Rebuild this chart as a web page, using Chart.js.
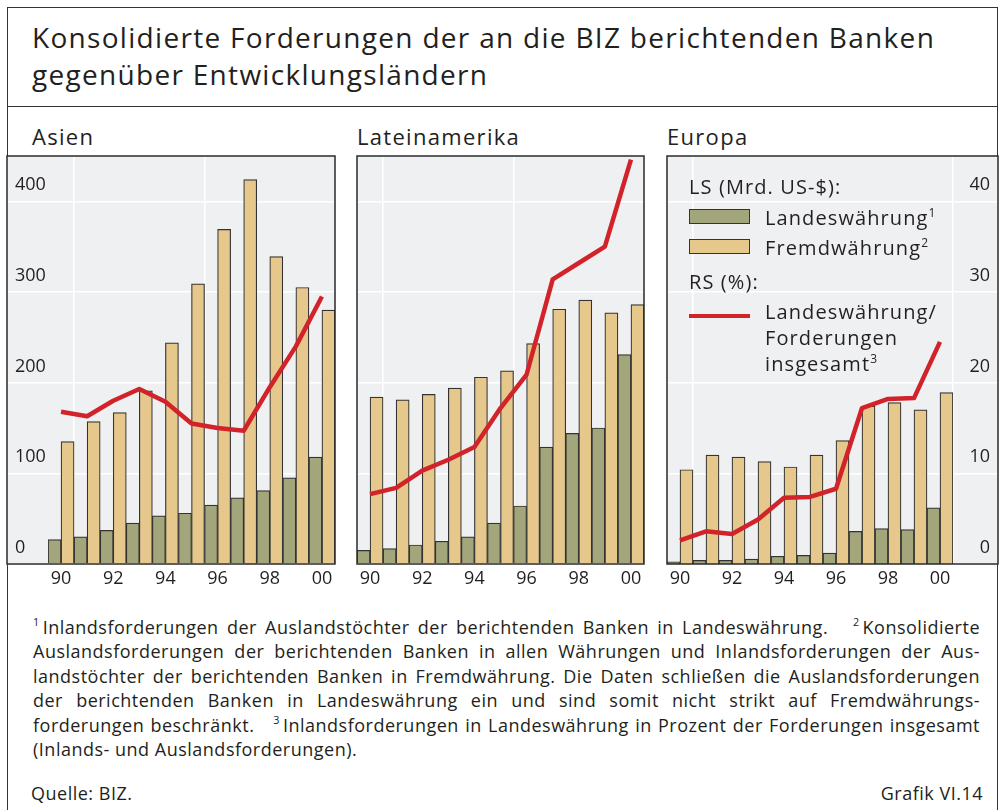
<!DOCTYPE html>
<html>
<head>
<meta charset="utf-8">
<script src="https://cdn.jsdelivr.net/npm/chart.js@4.4.0/dist/chart.umd.min.js"></script>
<style>
  body { margin: 0; background: #fff; }
  #wrap { position: relative; width: 1000px; height: 810px; overflow: hidden; font-family: "Open Sans", sans-serif; color: #231f20; }
  .abs { position: absolute; }
  #frame { left: 7px; top: 7px; width: 989px; height: 900px; border: 1.5px solid #333; }
  #titleline { left: 7px; top: 106px; width: 991px; height: 0; border-top: 1.5px solid #333; }
  #title { left: 32px; top: 19px; font-size: 28px; line-height: 37px; letter-spacing: 1.3px; white-space: nowrap; }
  .ptitle { top: 121px; font-size: 22px; line-height: 30px; letter-spacing: 1.3px; }
  canvas { position: absolute; }
  .lg { font-size: 20px; line-height: 26px; letter-spacing: 1.1px; white-space: nowrap; }
  .sw { border: 1.3px solid #333; box-sizing: border-box; }
  sup { font-size: 0.6em; line-height: 0; vertical-align: 0.7em; }
  #notes { left: 33px; top: 615px; width: 947px; font-size: 18px; line-height: 24.4px; letter-spacing: 0.5px; }
  #notes sup { margin-right: 3px; }
  .jl { text-align: justify; text-align-last: justify; white-space: nowrap; }
  .nl { text-align: left; }
  .src { top: 780px; font-size: 18px; line-height: 26px; letter-spacing: 0.5px; }
</style>
</head>
<body>
<div id="wrap">
  <div id="frame" class="abs"></div>
  <div id="titleline" class="abs"></div>
  <div id="title" class="abs">Konsolidierte Forderungen der an die BIZ berichtenden Banken<br>gegenüber Entwicklungsländern</div>

  <div class="abs ptitle" style="left:32px">Asien</div>
  <div class="abs ptitle" style="left:357px">Lateinamerika</div>
  <div class="abs ptitle" style="left:667px">Europa</div>

  <canvas id="asia" width="340" height="450" style="left:0px;top:150px;width:340px;height:450px"></canvas>
  <canvas id="latam" width="300" height="450" style="left:350px;top:150px;width:300px;height:450px"></canvas>
  <canvas id="europe" width="340" height="450" style="left:660px;top:150px;width:340px;height:450px"></canvas>

  <!-- legend in the Europa panel -->
  <div class="abs lg" style="left:689px;top:174px">LS (Mrd. US-$):</div>
  <div class="abs sw" style="left:689px;top:209px;width:61px;height:15px;background:#a3a67b"></div>
  <div class="abs lg" style="left:765px;top:205px">Landeswährung<sup>1</sup></div>
  <div class="abs sw" style="left:689px;top:239px;width:61px;height:15px;background:#e6c88c"></div>
  <div class="abs lg" style="left:765px;top:235px">Fremdwährung<sup>2</sup></div>
  <div class="abs lg" style="left:689px;top:269px">RS (%):</div>
  <div class="abs" style="left:689px;top:314px;width:61px;height:4px;background:#d2232a"></div>
  <div class="abs lg" style="left:765px;top:299px">Landeswährung/<br>Forderungen<br>insgesamt<sup>3</sup></div>

  <div id="notes" class="abs">
    <div class="jl"><sup>1</sup>Inlandsforderungen der Auslandstöchter der berichtenden Banken in Landeswährung. &nbsp;&nbsp;<sup>2</sup>Konsolidierte</div>
    <div class="jl">Auslandsforderungen der berichtenden Banken in allen Währungen und Inlandsforderungen der Aus-</div>
    <div class="jl">landstöchter der berichtenden Banken in Fremdwährung. Die Daten schließen die Auslandsforderungen</div>
    <div class="jl">der berichtenden Banken in Landeswährung ein und sind somit nicht strikt auf Fremdwährungs-</div>
    <div class="jl">forderungen beschränkt. &nbsp;&nbsp;<sup>3</sup>Inlandsforderungen in Landeswährung in Prozent der Forderungen insgesamt</div>
    <div class="nl">(Inlands- und Auslandsforderungen).</div>
  </div>
  <div class="abs src" style="left:31px">Quelle: BIZ.</div>
  <div class="abs src" style="right:17px">Grafik VI.14</div>
</div>

<script>
// years 1990 - 2000
var years = ['90', '91', '92', '93', '94', '95', '96', '97', '98', '99', '00'];
var xTickLabels = ['90', '', '92', '', '94', '', '96', '', '98', '', '00'];
var leftTicks = [0, 100, 200, 300, 400];   // Mrd. US-$
var rightTicks = [0, 10, 20, 30, 40];      // %

// Asien
var asiaLocal = [27, 30, 37, 45, 53, 56, 65, 73, 81, 95, 118];
var asiaForeign = [135, 157, 167, 191, 244, 309, 369, 424, 339, 305, 280];
var asiaShare = [16.8, 16.3, 18.0, 19.3, 17.9, 15.5, 15.0, 14.7, 19.5, 24.0, 29.5];

// Lateinamerika
var latamLocal = [15, 17, 21, 25, 30, 45, 64, 129, 144, 150, 231];
var latamForeign = [184, 181, 187, 194, 206, 213, 243, 281, 291, 277, 286];
var latamShare = [7.7, 8.4, 10.3, 11.5, 12.9, 17.2, 20.9, 31.4, 33.2, 35.0, 44.6];

// Europa
var euroLocal = [2.5, 4, 4, 5.5, 8.5, 9.5, 12, 36, 39, 38, 62];
var euroForeign = [104, 120, 118, 113, 107, 120, 136, 174, 178, 170, 189];
var euroShare = [2.6, 3.6, 3.3, 4.9, 7.3, 7.4, 8.3, 17.2, 18.2, 18.3, 24.5];

var colLocal = '#a3a67b';
var colForeign = '#e6c88c';
var colLine = '#d2232a';
var colBg = '#eff0f2';
var colText = '#231f20';

Chart.defaults.font.family = '"Open Sans", sans-serif';
Chart.defaults.color = colText;

// grey plot background and dark frame, optionally stretched over the axis label area
var plotFrame = {
    id: 'plotFrame',
    beforeDraw: function (chart, args, opts) {
        var a = chart.chartArea, c = chart.ctx;
        c.save();
        c.fillStyle = colBg;
        c.fillRect(a.left - opts.extraLeft, a.top, a.width + opts.extraLeft + opts.extraRight, a.height);
        c.restore();
    },
    afterDatasetsDraw: function (chart, args, opts) {
        var a = chart.chartArea, c = chart.ctx;
        c.save();
        c.strokeStyle = '#2a2a2a';
        c.lineWidth = 1.5;
        c.strokeRect(a.left - opts.extraLeft, a.top, a.width + opts.extraLeft + opts.extraRight, a.height);
        c.restore();
    }
};

function tickValues(list) {
    return function (scale) {
        scale.ticks = list.map(function (v) { return { value: v }; });
    };
}

// fixed axis thickness, no extra padding for label overhang
function fixSize(w, h) {
    return function (s) {
        if (w !== null) s.width = w;
        if (h !== null) s.height = h;
        s.paddingTop = 0;
        s.paddingBottom = 0;
        s.paddingLeft = 0;
        s.paddingRight = 0;
    };
}

function makeChart(id, local, foreign, share, cfg) {
    var labelFont = { size: 18 };
    var yLeft = {
        position: 'left',
        min: 0,
        max: 450,
        afterBuildTicks: tickValues(leftTicks),
        display: cfg.leftAxis !== 'none',
        grid: {
            color: '#fff',
            lineWidth: 1.5,
            drawTicks: cfg.leftAxis === 'labels',
            tickLength: 41
        },
        border: { display: false },
        ticks: {
            display: cfg.leftAxis === 'labels',
            crossAlign: 'far',
            labelOffset: -16,
            padding: 0,
            font: labelFont,
            color: colText
        },
        afterFit: fixSize(cfg.leftAxis === 'labels' ? 33 : 0, null)
    };
    var yRight = {
        position: 'right',
        min: 0,
        max: 45,
        afterBuildTicks: tickValues(rightTicks),
        display: cfg.rightAxis === 'labels',
        grid: {
            color: '#fff',
            lineWidth: 1.5,
            tickLength: 45
        },
        border: { display: true, color: '#fff', width: 1.5 },
        ticks: {
            crossAlign: 'far',
            labelOffset: -16,
            padding: 0,
            font: labelFont,
            color: colText
        },
        afterFit: fixSize(cfg.rightAxis === 'labels' ? 37 : 0, null)
    };

    return new Chart(document.getElementById(id), {
        type: 'bar',
        data: {
            labels: years,
            datasets: [{
                type: 'line',
                label: 'Landeswährung/Forderungen insgesamt',
                data: share,
                yAxisID: 'y1',
                borderColor: colLine,
                borderWidth: 4.5,
                borderJoinStyle: 'round',
                pointRadius: 0,
                tension: 0,
                fill: false
            }, {
                label: 'Landeswährung',
                data: local,
                yAxisID: 'y',
                backgroundColor: colLocal,
                borderColor: '#333',
                borderWidth: 1.2
            }, {
                label: 'Fremdwährung',
                data: foreign,
                yAxisID: 'y',
                backgroundColor: colForeign,
                borderColor: '#333',
                borderWidth: 1.2
            }]
        },
        options: {
            responsive: false,
            animation: false,
            categoryPercentage: 1.0,
            barPercentage: 1.0,
            layout: { padding: cfg.padding },
            plugins: {
                legend: { display: false },
                tooltip: { enabled: false },
                plotFrame: { extraLeft: cfg.extraLeft, extraRight: cfg.extraRight }
            },
            scales: {
                x: {
                    offset: true,
                    grid: {
                        offset: true,
                        drawTicks: false,
                        lineWidth: 1.5,
                        color: function (ctx) {
                            var i = ctx.type === 'scale' ? years.length : ctx.index;
                            return cfg.vLines.indexOf(i) >= 0 ? '#fff' : 'rgba(0,0,0,0)';
                        }
                    },
                    border: { display: false },
                    ticks: {
                        autoSkip: false,
                        maxRotation: 0,
                        padding: 4,
                        font: labelFont,
                        color: colText,
                        callback: function (v, i) { return xTickLabels[i]; }
                    },
                    afterFit: fixSize(null, 36)
                },
                y: yLeft,
                y1: yRight
            }
        },
        plugins: [plotFrame]
    });
}

makeChart('asia', asiaLocal, asiaForeign, asiaShare, {
    leftAxis: 'labels', rightAxis: 'none', vLines: [1, 6],
    padding: { left: 15, right: 5, top: 6, bottom: 0 }, extraLeft: 41, extraRight: 0
});
makeChart('latam', latamLocal, latamForeign, latamShare, {
    leftAxis: 'grid', rightAxis: 'none', vLines: [1, 6],
    padding: { left: 7, right: 6, top: 6, bottom: 0 }, extraLeft: 0, extraRight: 0
});
makeChart('europe', euroLocal, euroForeign, euroShare, {
    leftAxis: 'none', rightAxis: 'labels', vLines: [1],
    padding: { left: 7, right: 10, top: 6, bottom: 0 }, extraLeft: 0, extraRight: 45
});
</script>
</body>
</html>
